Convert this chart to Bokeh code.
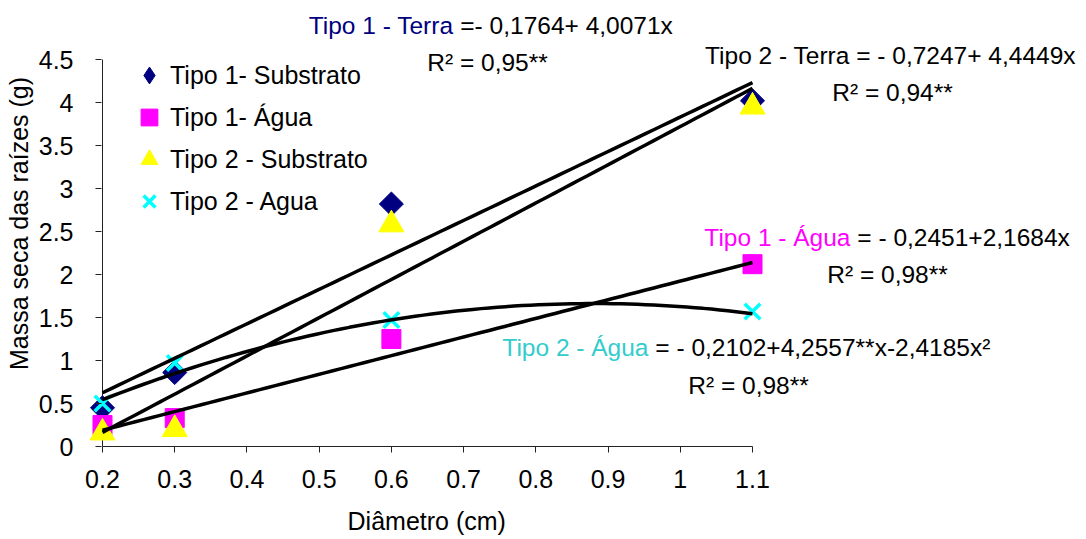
import numpy as np
from bokeh.plotting import figure
from bokeh.models import Range1d, FixedTicker, Label, Legend, LegendItem
from bokeh.embed import file_html
from bokeh.resources import INLINE

# ---------------- data ----------------
diametro = [0.2, 0.3, 0.6, 1.1]
t1_substrato = [0.45, 0.86, 2.82, 4.02]
t1_agua = [0.25, 0.33, 1.25, 2.12]
t2_substrato = [0.16, 0.20, 2.58, 3.95]
t2_agua = [0.50, 0.97, 1.47, 1.57]

series_names = ["Tipo 1- Substrato", "Tipo 1- Água", "Tipo 2 - Substrato", "Tipo 2 - Agua"]

# trend lines: y = a + b1*x + b2*x^2 (coefficients shown on the chart)
trend_a = [-0.1764, -0.7247, -0.2451, -0.2102]
trend_b1 = [4.0071, 4.4449, 2.1684, 4.2557]
trend_b2 = [0.0, 0.0, 0.0, -2.4185]

x_ticks = [0.2, 0.3, 0.4, 0.5, 0.6, 0.7, 0.8, 0.9, 1.0, 1.1]
x_tick_labels = ["0.2", "0.3", "0.4", "0.5", "0.6", "0.7", "0.8", "0.9", "1", "1.1"]
y_ticks = [0.0, 0.5, 1.0, 1.5, 2.0, 2.5, 3.0, 3.5, 4.0, 4.5]
y_tick_labels = ["0", "0.5", "1", "1.5", "2", "2.5", "3", "3.5", "4", "4.5"]

# ---------------- layout ----------------
FONT = "Liberation Sans"
FS = "25px"
AFS = "24.5px"
NB = "\u00a0"
W, H = 1086, 539
FL, FR, FT, FB = 86, W, 0, 446          # frame edges in px
AX0, AX1 = 102, 752                       # px of x=0.2 and x=1.1
Y45 = 59                                  # px of y=4.5
ppu_x = (AX1 - AX0) / 0.9
ppu_y = (FB - Y45) / 4.5
x_start = 0.2 - (AX0 - FL) / ppu_x
x_end = 1.1 + (FR - AX1) / ppu_x
y_end = 4.5 + (Y45 - FT) / ppu_y

def dx(px):
    return 0.2 + (px - AX0) / ppu_x

def dy(py):
    return (FB - py) / ppu_y

p = figure(width=W, height=H, output_backend="svg", toolbar_location=None,
           x_range=Range1d(x_start, x_end), y_range=Range1d(0, y_end),
           min_border_left=FL, min_border_right=0,
           min_border_top=0, min_border_bottom=H - FB)
p.outline_line_color = None
p.grid.visible = False
p.background_fill_color = "white"
p.border_fill_color = "white"

AXC = "#222222"

# the axis title is centred on the whole frame; pad it so that it sits
# under the middle of the 0.2 .. 1.1 axis
frame_mid = (FL + FR) / 2
axis_mid = (AX0 + AX1) / 2
n_pad = int(round(2 * (frame_mid - axis_mid) / (0.278 * 25)))

xa = p.xaxis[0]
xa.bounds = (0.2, 1.1)
xa.ticker = FixedTicker(ticks=x_ticks, minor_ticks=[])
xa.major_label_overrides = dict(zip(x_ticks, x_tick_labels))
xa.axis_label = "Diâmetro (cm)" + NB * n_pad
xa.major_tick_in = 0
xa.major_tick_out = 6
xa.major_label_standoff = 17
xa.axis_label_standoff = 16

ya = p.yaxis[0]
ya.bounds = (0, 4.5)
ya.ticker = FixedTicker(ticks=y_ticks, minor_ticks=[])
ya.major_label_overrides = dict(zip(y_ticks, y_tick_labels))
ya.axis_label = "Massa seca das raízes (g)"
ya.axis_line_color = None
# ticks drawn at the x=0.2 position, inside the frame edge
ya.major_tick_in = AX0 - 1 - FL
ya.major_tick_out = -(AX0 - 7 - FL)
ya.major_label_standoff = 13
ya.axis_label_standoff = 3

for ax in (xa, ya):
    ax.minor_tick_in = 0
    ax.minor_tick_out = 0
    ax.major_tick_line_color = AXC
    ax.major_label_text_font = FONT
    ax.major_label_text_font_size = FS
    ax.major_label_text_color = "black"
    ax.axis_label_text_font = FONT
    ax.axis_label_text_font_size = FS
    ax.axis_label_text_font_style = "normal"
    ax.axis_label_text_color = "black"
xa.axis_line_color = AXC

# vertical axis line at x = first x tick
p.segment(x0=[x_ticks[0]], y0=[y_ticks[0]], x1=[x_ticks[0]], y1=[y_ticks[-1]],
          line_color=AXC, line_width=1)

# ---------------- markers ----------------
NAVY, MAG, YEL, CYA = "#000080", "#FF00FF", "#FFFF00", "#00FFFF"
p.scatter(diametro, t1_substrato, marker="square", size=17, angle=np.pi / 4,
          fill_color=NAVY, line_color=NAVY)
r2 = p.scatter(diametro, t1_agua, marker="square", size=19,
               fill_color=MAG, line_color=MAG)
r3 = p.scatter(diametro, t2_substrato, marker="triangle", size=25,
               fill_color=YEL, line_color=YEL)
r4 = p.scatter(diametro, t2_agua, marker="x", size=22,
               line_color=CYA, line_width=3.5)
# legend swatch for the diamond series (legend glyphs are never rotated,
# so a diamond marker stands in for the rotated square)
r1 = p.scatter(diametro, t1_substrato, marker="diamond", size=0,
               fill_color=NAVY, line_color=NAVY)

# ---------------- trend lines ----------------
xs = np.linspace(0.2, 1.1, 80)
for a, b1, b2 in zip(trend_a, trend_b1, trend_b2):
    p.line(xs, a + b1 * xs + b2 * xs ** 2, line_color="black", line_width=3.5)

# ---------------- legend ----------------
legend = Legend(items=[LegendItem(label=n, renderers=[r], index=0) for n, r in
                       zip(series_names, [r1, r2, r3, r4])],
                location=(128 - FL, FB - 222),
                glyph_width=42, glyph_height=42, spacing=0, padding=0, margin=0,
                label_standoff=0, border_line_color=None,
                background_fill_alpha=0,
                label_text_font=FONT, label_text_font_size=FS,
                label_text_color="black")
p.add_layout(legend)

# ---------------- annotations ----------------
def lab(px, py, text, color="black", align="left"):
    p.add_layout(Label(x=dx(px), y=dy(py), text=text, text_color=color,
                       text_font=FONT, text_font_size=AFS, text_align=align,
                       text_baseline="middle"))

lab(453, 25, "Tipo 1 - Terra", color="#000080", align="right")
lab(453, 25, NB + "=- 0,1764+ 4,0071x")
lab(487, 62, "R² = 0,95**", align="center")

lab(890, 55, "Tipo 2 - Terra = - 0,7247+ 4,4449x", align="center")
lab(892, 92, "R² = 0,94**", align="center")

lab(850, 237, "Tipo 1 - Água", color="#FF00FF", align="right")
lab(850, 237, NB + "= - 0,2451+2,1684x")
lab(887, 274, "R² = 0,98**", align="center")

lab(648, 347, "Tipo 2 - Água", color="#33CCCC", align="right")
lab(648, 347, NB + "= - 0,2102+4,2557**x-2,4185x²")
lab(748, 385, "R² = 0,98**", align="center")

open("out.html", "w").write(file_html(p, INLINE))
